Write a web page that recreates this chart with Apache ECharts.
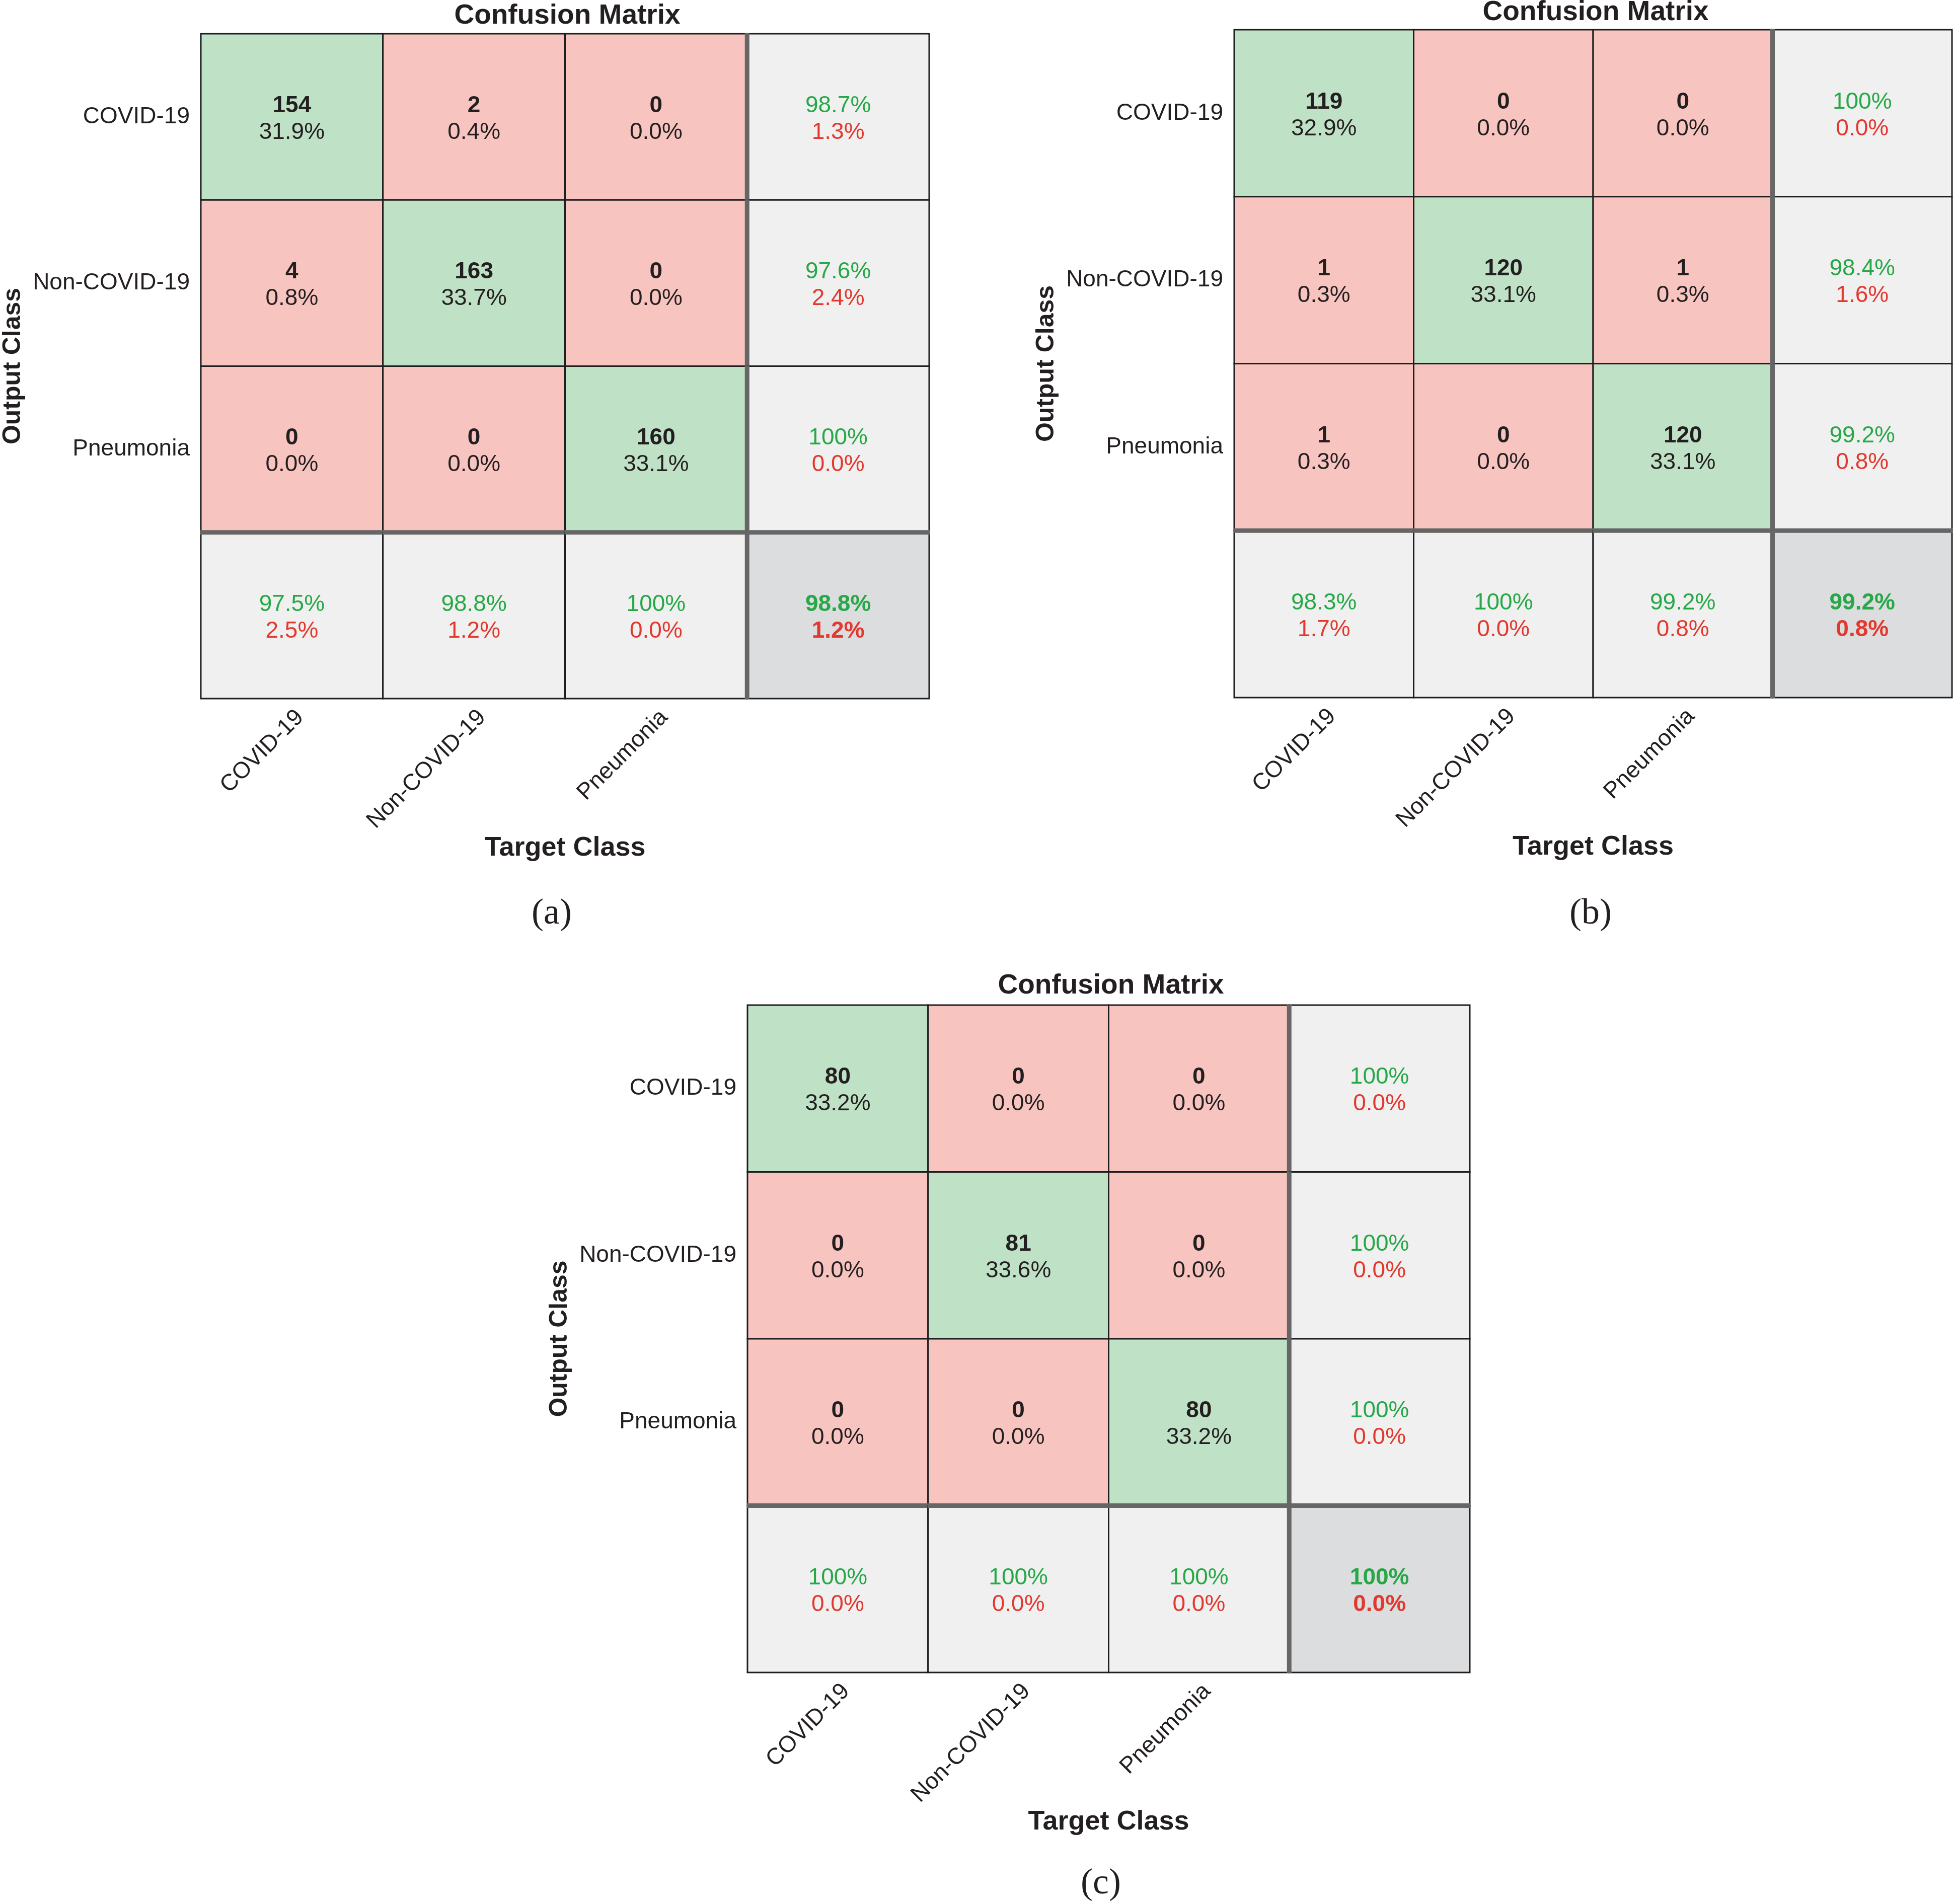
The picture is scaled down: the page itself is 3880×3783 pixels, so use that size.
<!DOCTYPE html>
<html>
<head>
<meta charset="utf-8">
<script src="https://cdn.jsdelivr.net/npm/echarts@6/dist/echarts.min.js"></script>
<style>
html,body{margin:0;padding:0;background:#fff;}
#main{width:3880px;height:3783px;}
</style>
</head>
<body>
<div id="main"></div>
<script>
// ---- data ----
const classes = ['COVID-19', 'Non-COVID-19', 'Pneumonia'];
const axisCats = ['COVID-19', 'Non-COVID-19', 'Pneumonia', ''];
// rows = Output Class, columns = Target Class
const countsA = [[154, 2, 0], [4, 163, 0], [0, 0, 160]];
const countsB = [[119, 0, 0], [1, 120, 1], [1, 0, 120]];
const countsC = [[80, 0, 0], [0, 81, 0], [0, 0, 80]];
const panelLabels = ['(a)', '(b)', '(c)'];
const titleText = 'Confusion Matrix';
const xName = 'Target Class';
const yName = 'Output Class';

// ---- styling ----
const FONT = '"Liberation Sans", Arial, Helvetica, sans-serif';
const C_GREEN_CELL = '#BFE1C5';
const C_RED_CELL = '#F8C4C0';
const C_GRAY_CELL = '#F0F0F0';
const C_CORNER = '#DCDDDE';
const C_TXT = '#231F20';
const C_GOOD = '#27A847';
const C_BAD = '#E2382E';
const CELL_FS = 46;

function fmt(p) {
  if (Math.abs(p - 100) < 1e-9) return '100%';
  return p.toFixed(1) + '%';
}

function buildCells(m) {
  const n = m.length;
  let total = 0, diag = 0;
  const rowSum = [], colSum = [];
  for (let i = 0; i < n; i++) { rowSum[i] = 0; colSum[i] = 0; }
  for (let r = 0; r < n; r++) for (let c = 0; c < n; c++) {
    total += m[r][c]; rowSum[r] += m[r][c]; colSum[c] += m[r][c];
    if (r === c) diag += m[r][c];
  }
  const cells = [];
  for (let r = 0; r < n; r++) for (let c = 0; c < n; c++) {
    cells.push({ value: [c, r], kind: r === c ? 'diag' : 'off',
      t1: String(m[r][c]), t2: fmt(m[r][c] / total * 100) });
  }
  for (let r = 0; r < n; r++) {
    const p = m[r][r] / rowSum[r] * 100;
    cells.push({ value: [n, r], kind: 'sumR', t1: fmt(p), t2: fmt(100 - p) });
  }
  for (let c = 0; c < n; c++) {
    const p = m[c][c] / colSum[c] * 100;
    cells.push({ value: [c, n], kind: 'sumC', t1: fmt(p), t2: fmt(100 - p) });
  }
  const acc = diag / total * 100;
  cells.push({ value: [n, n], kind: 'corner', t1: fmt(acc), t2: fmt(100 - acc) });
  return cells;
}

function makeRender(cells) {
  return function (params, api) {
    const cell = cells[params.dataIndex];
    const ctr = api.coord([api.value(0), api.value(1)]);
    const sz = api.size([1, 1]);
    const w = sz[0], h = sz[1];
    const x0 = ctr[0] - w / 2, y0 = ctr[1] - h / 2;
    let fill = C_GRAY_CELL;
    if (cell.kind === 'diag') fill = C_GREEN_CELL;
    else if (cell.kind === 'off') fill = C_RED_CELL;
    else if (cell.kind === 'corner') fill = C_CORNER;
    const children = [{
      type: 'rect',
      shape: { x: x0, y: y0, width: w, height: h },
      style: { fill: fill, stroke: '#1E1E1E', lineWidth: 3 }
    }];
    const isSum = cell.kind === 'sumR' || cell.kind === 'sumC' || cell.kind === 'corner';
    if (cell.kind === 'sumR' || cell.kind === 'corner') {
      children.push({ type: 'line', shape: { x1: x0, y1: y0 - 1, x2: x0, y2: y0 + h + 1 },
        style: { stroke: '#666666', lineWidth: 9 } });
    }
    if (cell.kind === 'sumC' || cell.kind === 'corner') {
      children.push({ type: 'line', shape: { x1: x0 - 1, y1: y0, x2: x0 + w + 1, y2: y0 },
        style: { stroke: '#666666', lineWidth: 9 } });
    }
    const bold1 = (cell.kind === 'diag' || cell.kind === 'off' || cell.kind === 'corner');
    const bold2 = cell.kind === 'corner';
    children.push({
      type: 'text',
      style: { x: ctr[0], y: ctr[1] - 22, text: cell.t1, align: 'center', verticalAlign: 'middle',
        fill: isSum ? C_GOOD : C_TXT, fontSize: CELL_FS, fontFamily: FONT, fontWeight: bold1 ? 'bold' : 'normal' }
    });
    children.push({
      type: 'text',
      style: { x: ctr[0], y: ctr[1] + 31, text: cell.t2, align: 'center', verticalAlign: 'middle',
        fill: isSum ? C_BAD : C_TXT, fontSize: CELL_FS, fontFamily: FONT, fontWeight: bold2 ? 'bold' : 'normal' }
    });
    return { type: 'group', children: children };
  };
}

const matrices = [countsA, countsB, countsC];
const grids = [
  { left: 398, top: 67, width: 1448, height: 1321 },
  { left: 2452, top: 59, width: 1426, height: 1327 },
  { left: 1485, top: 1997, width: 1435, height: 1326 }
];
const titlePos = [
  { x: 1127, top: 4 },
  { x: 3170, top: -3 },
  { x: 2207, top: 1931 }
];
const panelPos = [
  { x: 1096, top: 1780 },
  { x: 3160, top: 1780 },
  { x: 2187, top: 3707 }
];

const titles = [], xAxes = [], yAxes = [], series = [];
matrices.forEach(function (m, i) {
  titles.push({ text: titleText, left: titlePos[i].x, top: titlePos[i].top, textAlign: 'center', padding: 0,
    textStyle: { fontFamily: FONT, fontSize: 55, fontWeight: 'bold', color: C_TXT } });
  titles.push({ text: panelLabels[i], left: panelPos[i].x, top: panelPos[i].top, textAlign: 'center', padding: 0,
    textStyle: { fontFamily: '"Liberation Serif", "Times New Roman", serif', fontSize: 72, fontWeight: 'normal', color: C_TXT } });
  xAxes.push({
    type: 'category', gridIndex: i, data: axisCats, position: 'bottom',
    axisLine: { show: false }, axisTick: { show: false }, splitLine: { show: false },
    axisLabel: { interval: 0, rotate: 45, margin: 14, verticalAlign: 'top', padding: [0, 0, 0, 14],
      fontSize: CELL_FS, fontFamily: FONT, color: C_TXT },
    name: xName, nameLocation: 'middle', nameGap: 267,
    nameTextStyle: { fontSize: 54, fontWeight: 'bold', fontFamily: FONT, color: C_TXT }
  });
  yAxes.push({
    type: 'category', gridIndex: i, data: axisCats, inverse: true,
    axisLine: { show: false }, axisTick: { show: false }, splitLine: { show: false },
    axisLabel: { interval: 0, margin: 22, padding: [8, 0, 0, 0], fontSize: CELL_FS, fontFamily: FONT, color: C_TXT },
    name: yName, nameLocation: 'middle', nameRotate: 90, nameGap: 348,
    nameTextStyle: { fontSize: 50, fontWeight: 'bold', fontFamily: FONT, color: C_TXT }
  });
  const cells = buildCells(m);
  series.push({
    type: 'custom', xAxisIndex: i, yAxisIndex: i, clip: false,
    renderItem: makeRender(cells),
    encode: { x: 0, y: 1 },
    data: cells.map(function (c) { return c.value; })
  });
});

const chart = echarts.init(document.getElementById('main'), null, { renderer: 'canvas' });
chart.setOption({
  animation: false,
  backgroundColor: '#ffffff',
  title: titles,
  grid: grids,
  xAxis: xAxes,
  yAxis: yAxes,
  series: series
});
</script>
</body>
</html>
